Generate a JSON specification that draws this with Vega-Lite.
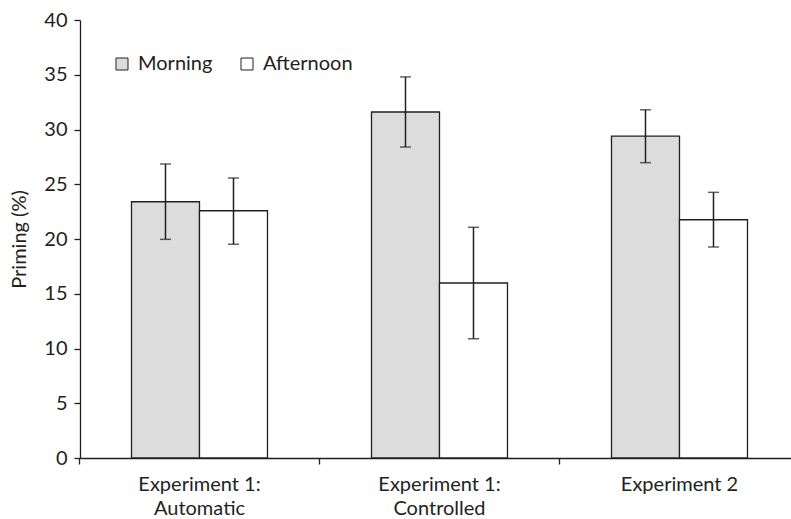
{
  "$schema": "https://vega.github.io/schema/vega-lite/v6.json",
  "width": 711,
  "height": 438,
  "autosize": {"type": "none"},
  "padding": {"left": 80, "top": 20, "right": 0, "bottom": 61},
  "background": "white",
  "config": {
    "view": {"stroke": null},
    "font": "Lato",
    "axis": {
      "labelFont": "Lato",
      "titleFont": "Lato",
      "labelFontSize": 20,
      "titleFontSize": 20,
      "titleFontWeight": "normal",
      "labelColor": "#231f20",
      "titleColor": "#231f20",
      "domainColor": "#231f20",
      "tickColor": "#231f20",
      "domainWidth": 1.3,
      "tickWidth": 1.3,
      "grid": false
    }
  },
  "data": {
    "values": [
      {"condition": "Experiment 1: Automatic", "period": "Morning", "priming": 23.4, "lo": 19.97, "hi": 26.85},
      {"condition": "Experiment 1: Automatic", "period": "Afternoon", "priming": 22.58, "lo": 19.52, "hi": 25.57},
      {"condition": "Experiment 1: Controlled", "period": "Morning", "priming": 31.6, "lo": 28.4, "hi": 34.8},
      {"condition": "Experiment 1: Controlled", "period": "Afternoon", "priming": 15.98, "lo": 10.89, "hi": 21.07},
      {"condition": "Experiment 2", "period": "Morning", "priming": 29.4, "lo": 26.97, "hi": 31.8},
      {"condition": "Experiment 2", "period": "Afternoon", "priming": 21.76, "lo": 19.27, "hi": 24.26}
    ]
  },
  "encoding": {
    "x": {
      "field": "condition",
      "type": "nominal",
      "sort": ["Experiment 1: Automatic", "Experiment 1: Controlled", "Experiment 2"],
      "scale": {"paddingInner": 0.4333, "paddingOuter": 0.1979, "align": 0.542},
      "axis": {
        "title": null,
        "labelAngle": 0,
        "bandPosition": -0.382,
        "tickSize": 6,
        "labelPadding": 10,
        "labelLineHeight": 24,
        "labelBaseline": "top",
        "labelExpr": "indexof(datum.label, ': ') > 0 ? [slice(datum.label, 0, indexof(datum.label, ': ') + 1), slice(datum.label, indexof(datum.label, ': ') + 2)] : datum.label"
      }
    },
    "xOffset": {
      "field": "period",
      "type": "nominal",
      "sort": ["Morning", "Afternoon"],
      "scale": {"paddingInner": 0, "paddingOuter": 0}
    }
  },
  "layer": [
    {
      "mark": {"type": "bar", "stroke": "#231f20", "strokeWidth": 1.3},
      "encoding": {
        "y": {
          "field": "priming",
          "type": "quantitative",
          "title": "Priming (%)",
          "scale": {"domain": [0, 40], "nice": false},
          "axis": {"values": [0, 5, 10, 15, 20, 25, 30, 35, 40], "tickSize": 6, "labelPadding": 7, "titlePadding": 14}
        },
        "fill": {
          "field": "period",
          "type": "nominal",
          "sort": ["Morning", "Afternoon"],
          "scale": {"domain": ["Morning", "Afternoon"], "range": ["#dcdcdc", "#ffffff"]},
          "legend": {
            "title": null,
            "orient": "none",
            "legendX": 32,
            "legendY": 34,
            "direction": "horizontal",
            "symbolType": "square",
            "symbolSize": 144,
            "symbolStrokeColor": "#231f20",
            "symbolStrokeWidth": 1,
            "labelFont": "Lato",
            "labelFontSize": 20,
            "labelColor": "#231f20",
            "labelOffset": 6,
            "columnPadding": 24
          }
        }
      }
    },
    {
      "mark": {"type": "rule", "color": "#231f20", "strokeWidth": 1.5},
      "encoding": {
        "y": {"field": "lo", "type": "quantitative", "title": "Priming (%)"},
        "y2": {"field": "hi"}
      }
    },
    {
      "mark": {"type": "tick", "color": "#231f20", "thickness": 1.5, "size": 11},
      "encoding": {
        "y": {"field": "lo", "type": "quantitative", "title": "Priming (%)"}
      }
    },
    {
      "mark": {"type": "tick", "color": "#231f20", "thickness": 1.5, "size": 11},
      "encoding": {
        "y": {"field": "hi", "type": "quantitative", "title": "Priming (%)"}
      }
    }
  ]
}
